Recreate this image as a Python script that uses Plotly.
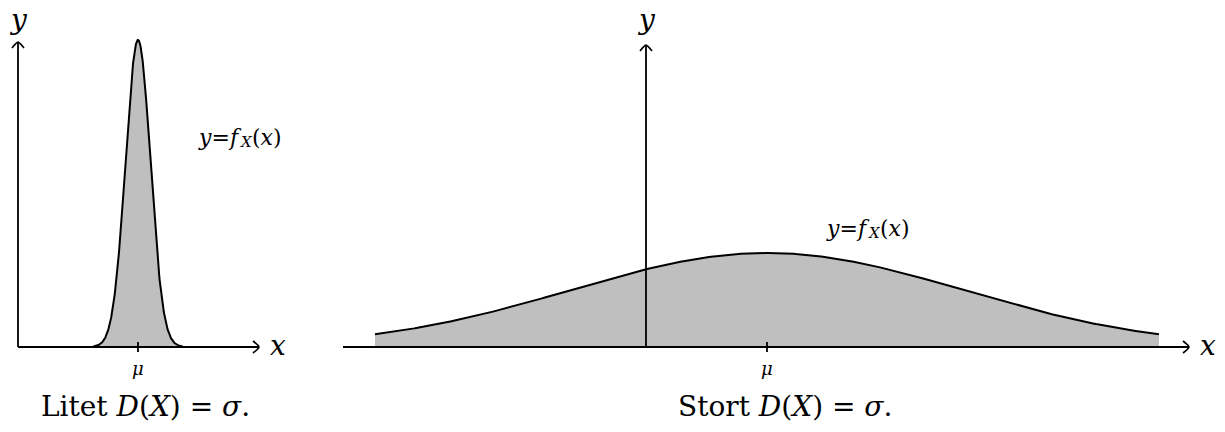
import numpy as np
import plotly.graph_objects as go

# ---- data ----
MU = [0.0, 0.0]              # mean of the two densities (left, right)
SIGMA = [0.5, 3.0]           # small and large standard deviation
X_SPAN = [3.6, 2.0]          # curve drawn over mu +/- span*sigma
CAPTIONS = ["Litet <i>D</i>(<i>X</i>)\u00a0=\u00a0<i>σ</i>.",
            "Stort <i>D</i>(<i>X</i>)\u00a0=\u00a0<i>σ</i>."]
CURVE_LABEL_PARTS = ["<i>y</i>=<i>f</i>", "<i>X</i>", "(<i>x</i>)"]
MU_LABEL = "<i>μ</i>"
AXIS_LETTERS = ["<i>x</i>", "<i>y</i>"]

W, H = 1225, 432
SERIF = "DejaVu Serif, Liberation Serif, serif"

def pdf(x, mu, s):
    return np.exp(-(x - mu) ** 2 / (2 * s * s)) / (s * np.sqrt(2 * np.pi))

# pixel layout of the two panels
PANELS = [
    dict(dom=(0, 300), mu_px=138, sig_px=12.4, y0_px=347, peak_px=307,
         xaxis_px=(18, 259), yaxis_px=18, ytop_px=42,
         flabel_px=(243, 137), cap_px=145),
    dict(dom=(300, 1225), mu_px=767, sig_px=196, y0_px=347, peak_px=94,
         xaxis_px=(343, 1189), yaxis_px=646, ytop_px=45,
         flabel_px=(871, 228), cap_px=785),
]

fig = go.Figure()
annotations = []
LINE = dict(color="black", width=1.8)
for i, P in enumerate(PANELS):
    mu, s = MU[i], SIGMA[i]
    xs = P["sig_px"] / s                   # px per x unit
    ys = P["peak_px"] / pdf(mu, mu, s)     # px per y unit
    px2x = lambda p: mu + (p - P["mu_px"]) / xs
    py2y = lambda p: (P["y0_px"] - p) / ys
    xa = "x" if i == 0 else "x2"
    ya = "y" if i == 0 else "y2"
    lay_x = "xaxis" if i == 0 else "xaxis2"
    lay_y = "yaxis" if i == 0 else "yaxis2"
    fig.update_layout(**{
        lay_x: dict(domain=[P["dom"][0] / W, P["dom"][1] / W],
                    range=[px2x(P["dom"][0]), px2x(P["dom"][1])],
                    visible=False, anchor=ya, fixedrange=True),
        lay_y: dict(domain=[0, 1], range=[py2y(H), py2y(0)],
                    visible=False, anchor=xa, fixedrange=True),
    })
    common = dict(xaxis=xa, yaxis=ya, mode="lines", hoverinfo="skip",
                  showlegend=False)
    x = np.linspace(mu - X_SPAN[i] * s, mu + X_SPAN[i] * s, 400)
    fig.add_trace(go.Scatter(x=x, y=pdf(x, mu, s), fill="tozeroy",
                             fillcolor="#BFBFBF",
                             line=dict(color="black", width=2), **common))
    # mu tick
    t = 5 / ys
    fig.add_trace(go.Scatter(x=[mu, mu], y=[-t, t], line=LINE, **common))
    # axes
    x0, x1 = px2x(P["xaxis_px"][0]), px2x(P["xaxis_px"][1])
    yax = px2x(P["yaxis_px"])
    ytop = py2y(P["ytop_px"])
    fig.add_trace(go.Scatter(x=[x0, x1], y=[0, 0], line=LINE, **common))
    fig.add_trace(go.Scatter(x=[yax, yax], y=[0, ytop], line=LINE, **common))
    # arrow heads (open chevrons, sized in pixels)
    hb, hw = 6 / xs, 6 / ys
    fig.add_trace(go.Scatter(x=[x1 - hb, x1 - hb * 0.35, x1, x1 - hb * 0.35, x1 - hb],
                             y=[hw, hw * 0.45, 0, -hw * 0.45, -hw],
                             line=dict(color="black", width=1.6, shape="spline"),
                             **common))
    vb, vw = 6 / ys, 6 / xs
    fig.add_trace(go.Scatter(x=[yax - vw, yax - vw * 0.45, yax, yax + vw * 0.45, yax + vw],
                             y=[ytop - vb, ytop - vb * 0.35, ytop, ytop - vb * 0.35, ytop - vb],
                             line=dict(color="black", width=1.6, shape="spline"),
                             **common))
    txt = dict(xref=xa, yref=ya, showarrow=False, borderpad=0)
    # axis letters
    annotations.append(dict(txt, text=AXIS_LETTERS[0], x=px2x(P["xaxis_px"][1] + 19),
                            y=py2y(345),
                            font=dict(family=SERIF, size=28, color="black")))
    annotations.append(dict(txt, text=AXIS_LETTERS[1], x=yax, y=py2y(19),
                            font=dict(family=SERIF, size=28, color="black")))
    # mu label
    annotations.append(dict(txt, text=MU_LABEL, x=mu, y=py2y(368),
                            font=dict(family=SERIF, size=18, color="black")))
    # curve label y=f_X(x) built from three pieces
    cx, cy = P["flabel_px"]
    annotations.append(dict(txt, text=CURVE_LABEL_PARTS[0], x=px2x(cx),
                            y=py2y(cy), xanchor="right",
                            font=dict(family=SERIF, size=22, color="black")))
    annotations.append(dict(txt, text=CURVE_LABEL_PARTS[1], x=px2x(cx - 4),
                            y=py2y(cy + 5), xanchor="left",
                            font=dict(family=SERIF, size=15, color="black")))
    annotations.append(dict(txt, text=CURVE_LABEL_PARTS[2], x=px2x(cx + 8),
                            y=py2y(cy), xanchor="left",
                            font=dict(family=SERIF, size=22, color="black")))
    # caption
    annotations.append(dict(txt, text=CAPTIONS[i], x=px2x(P["cap_px"]), y=py2y(406),
                            font=dict(family=SERIF, size=28, color="black")))

fig.update_layout(width=W, height=H, margin=dict(l=0, r=0, t=0, b=0),
                  paper_bgcolor="white", plot_bgcolor="white",
                  showlegend=False, annotations=annotations)
fig.write_html("out.html", config={"displayModeBar": False},
               post_script="document.body.style.margin='0';"
                           "document.body.style.overflow='hidden';")
